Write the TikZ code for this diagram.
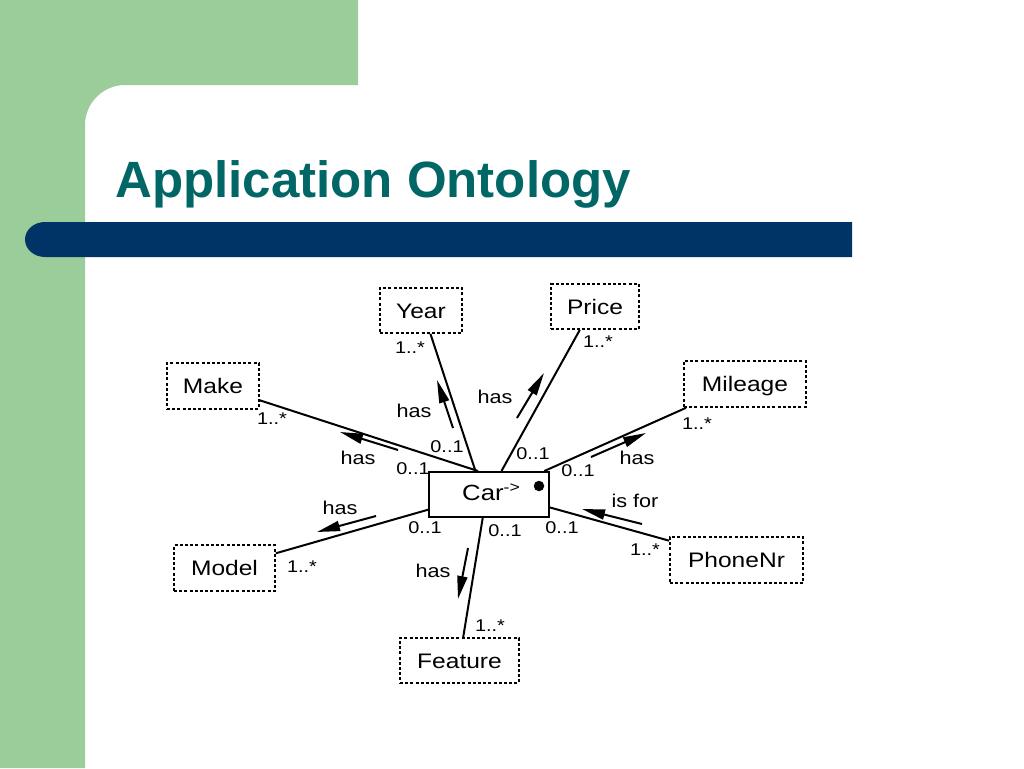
\documentclass[tikz,border=0pt]{standalone}
\usepackage{fontspec}
\setmainfont{Liberation Sans}
\newfontfamily\diag{Liberation Sans}[FakeStretch=1.17]
\usetikzlibrary{arrows.meta,calc}
\definecolor{slgreen}{RGB}{155,205,155}
\definecolor{slblue}{RGB}{0,51,102}
\definecolor{slteal}{RGB}{0,102,102}
\tikzset{
  concept/.style={draw, line width=1.7pt, dash pattern=on 3pt off 2.2pt, inner sep=0pt,
    text height=15pt, text depth=0pt, font=\diag\fontsize{21}{21}\selectfont},
  carbox/.style={draw, line width=1.9pt, inner sep=0pt},
  link/.style={line width=2pt},
  dirarrow/.style={line width=2pt, -{Triangle[length=23pt,width=10pt]}},
  lab/.style={anchor=base, inner sep=0pt, font=\diag\fontsize{17}{17}\selectfont},
  rel/.style={anchor=base, inner sep=0pt, font=\diag\fontsize{18.5}{18.5}\selectfont},
}
\begin{document}
\begin{tikzpicture}[x=1pt,y=-1pt]
\useasboundingbox (0,0) rectangle (1024,768);
% background
\fill[white] (0,0) rectangle (1024,768);
\fill[slgreen] (0,0) -- (358,0) -- (358,85) -- (125,85)
  .. controls (103,85) and (85,103) .. (85,125) -- (85,768) -- (0,768) -- cycle;
\fill[slblue] (852,222) -- (45,222)
  .. controls (34,222) and (25,229.8) .. (25,239.5)
  .. controls (25,249.2) and (34,257) .. (45,257) -- (852,257) -- cycle;
\node[anchor=base west, inner sep=0pt, text=slteal,
  font=\bfseries\fontsize{51}{51}\selectfont] (title) at (115,197) {Application Ontology};

% concept boxes
\node[concept, minimum width=82pt, minimum height=45pt] (year) at (421,310.5) {Year};
\node[concept, minimum width=88pt, minimum height=45pt] (price) at (595,306.5) {Price};
\node[concept, minimum width=92pt, minimum height=46pt] (make) at (213,386) {Make};
\node[concept, minimum width=122pt, minimum height=46pt] (mileage) at (745,384) {Mileage};
\node[concept, minimum width=101pt, minimum height=46pt] (model) at (224.5,568) {Model};
\node[concept, minimum width=133pt, minimum height=46pt] (phone) at (736.5,560) {PhoneNr};
\node[concept, minimum width=119pt, minimum height=45pt] (feature) at (459.5,660.5) {Feature};
\node[carbox, minimum width=120pt, minimum height=45pt] (car) at (489,494.5) {};
\node[anchor=base west, inner sep=0pt, font=\diag\fontsize{22}{22}\selectfont] (cartext) at (462,500.5)
  {Car\raisebox{8pt}{\fontsize{15}{15}\selectfont ->}};
\node[circle, fill=black, inner sep=0pt, minimum size=10.5pt] (dot) at (539,486) {};

% connectors
\draw[link] (year.-68) -- (car.120);
\draw[link] (make.-17) -- (car.115);
\draw[link] (price.-123.7) -- (car.62);
\draw[link] (mileage.202) -- (car.23.8);
\draw[link] (model.16.5) -- (car.194.5);
\draw[link] (feature.81) -- (car.255);
\draw[link] (phone.164) -- (car.-12.7);

% direction arrows
\coordinate (ya1) at (453,428); \coordinate (ya2) at (437,380);
\coordinate (ma1) at (398,450); \coordinate (ma2) at (340,432);
\coordinate (pa1) at (517,418); \coordinate (pa2) at (544,373);
\coordinate (mia1) at (591,457); \coordinate (mia2) at (646,433);
\coordinate (moa1) at (376,516); \coordinate (moa2) at (317,532);
\coordinate (fa1) at (468,548); \coordinate (fa2) at (458,599);
\coordinate (pha1) at (642,524); \coordinate (pha2) at (582,509);
\draw[dirarrow] (ya1) -- (ya2);
\draw[dirarrow] (ma1) -- (ma2);
\draw[dirarrow] (pa1) -- (pa2);
\draw[dirarrow] (mia1) -- (mia2);
\draw[dirarrow] (moa1) -- (moa2);
\draw[dirarrow] (fa1) -- (fa2);
\draw[dirarrow] (pha1) -- (pha2);

% relation labels
\node[rel] (hy) at (414,417.7) {has};
\node[rel] (hp) at (495,403.7) {has};
\node[rel] (hm) at (358,464.7) {has};
\node[rel] (hmi) at (637,464.7) {has};
\node[rel] (hmo) at (340,514.7) {has};
\node[rel] (hf) at (433,577.7) {has};
\node[rel] (hph) at (635,507.7) {is for};

% multiplicities
\node[lab] (my) at (410,353) {1..*};
\node[lab] (mp) at (598,347) {1..*};
\node[lab] (mm) at (272,424) {1..*};
\node[lab] (mmi) at (697,429) {1..*};
\node[lab] (mmo) at (302,572) {1..*};
\node[lab] (mph) at (645,555) {1..*};
\node[lab] (mf) at (490,631) {1..*};
\node[lab] (cy) at (447,452) {0..1};
\node[lab] (cm) at (413,474) {0..1};
\node[lab] (cp) at (533,459) {0..1};
\node[lab] (cmi) at (578,476) {0..1};
\node[lab] (cmo) at (425,533) {0..1};
\node[lab] (cf) at (505,536) {0..1};
\node[lab] (cph) at (562,533) {0..1};
\end{tikzpicture}
\end{document}
